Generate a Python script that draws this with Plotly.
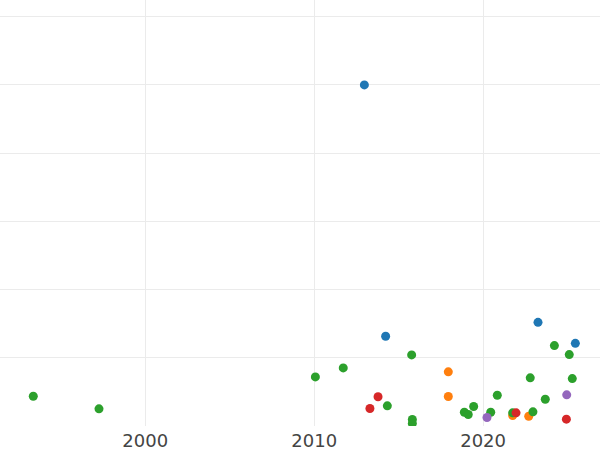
import plotly.graph_objects as go

# year / value pairs per group (value units: one grid step = 10)
blue_year = [2012.97, 2014.23, 2023.25, 2025.46]
blue_val = [50.0, 13.15, 15.2, 12.12]

orange_year = [2017.94, 2017.94, 2021.75, 2022.70]
orange_val = [7.94, 4.32, 1.54, 1.43]

green_year = [1993.37, 1997.26, 2010.07, 2011.72, 2014.33, 2015.77, 2015.81, 2015.81,
              2018.89, 2019.12, 2019.44, 2020.45, 2020.84, 2021.75, 2022.79, 2022.95,
              2023.68, 2024.22, 2025.10, 2025.28]
green_val = [4.36, 2.52, 7.2, 8.52, 2.96, 10.42, 0.95, 0.37,
             2.02, 1.68, 2.86, 2.02, 4.51, 1.93, 7.06, 2.08,
             3.92, 11.79, 10.47, 6.95]

red_year = [2013.78, 2013.30, 2021.95, 2024.93]
red_val = [4.28, 2.56, 1.93, 1.0]

purple_year = [2020.23, 2024.95]
purple_val = [1.24, 4.57]

groups = [
    ("A", blue_year, blue_val, "#1f77b4"),
    ("B", orange_year, orange_val, "#ff7f0e"),
    ("C", green_year, green_val, "#2ca02c"),
    ("D", red_year, red_val, "#d62728"),
    ("E", purple_year, purple_val, "#9467bd"),
]

fig = go.Figure()
for name, xs, ys, color in groups:
    fig.add_trace(go.Scatter(
        x=xs, y=ys, mode="markers", name=name,
        marker=dict(size=9, color=color),
    ))

fig.update_layout(
    width=600, height=450,
    template="none",
    plot_bgcolor="white", paper_bgcolor="white",
    showlegend=False,
    margin=dict(l=0, r=0, t=0, b=23.5),
    font=dict(family="DejaVu Sans", size=18, color="#444"),
)
fig.update_xaxes(
    range=[1991.4, 2026.92], tickvals=[2000, 2010, 2020],
    showgrid=True, gridcolor="#ebebeb", gridwidth=1,
    zeroline=False, showline=False, ticks="", automargin=False,
    ticklabelstandoff=2,
)
fig.update_yaxes(
    range=[0, 62.45], dtick=10, showticklabels=False,
    showgrid=True, gridcolor="#ebebeb", gridwidth=1,
    zeroline=False, showline=False, ticks="", automargin=False,
)

# drop the page's default body margin so the plot fills the window edge to edge
fig.write_html("out.html", config={"displayModeBar": False},
               post_script="document.body.style.margin = '0px';")
